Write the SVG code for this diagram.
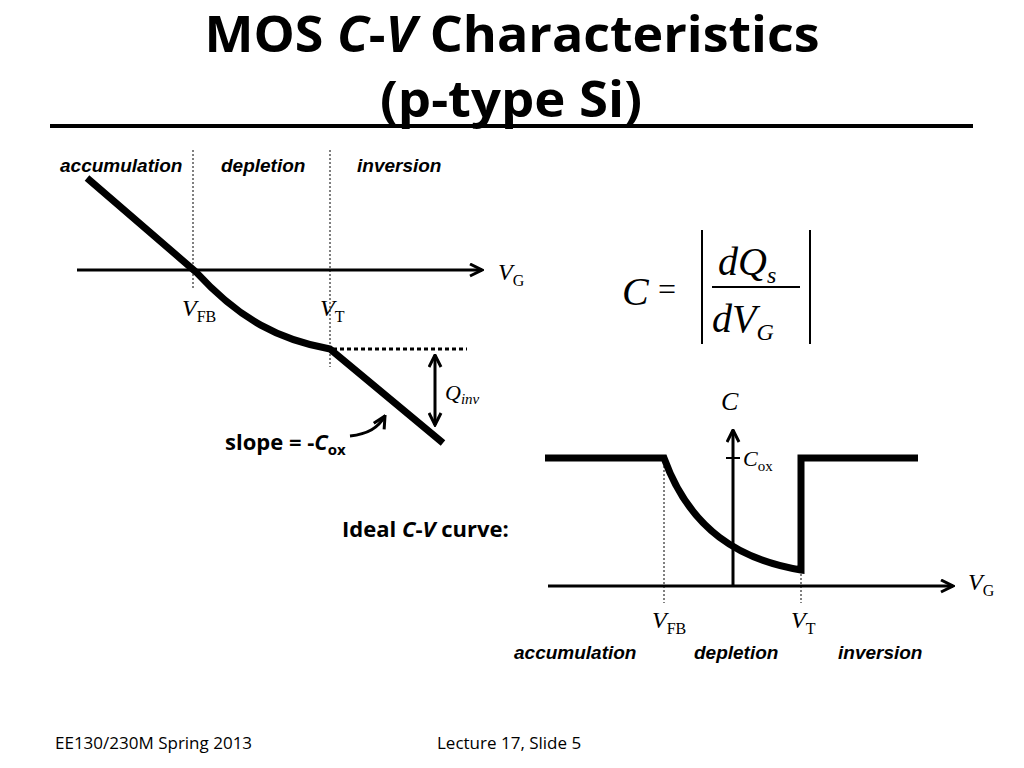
<svg xmlns="http://www.w3.org/2000/svg" width="1024" height="768" viewBox="0 0 1024 768">
<style>
.t{font-family:"Open Sans","Liberation Sans",sans-serif;font-weight:bold}
.r{font-family:"Arial Narrow","Liberation Sans",sans-serif;font-weight:bold;font-style:italic;font-size:19px}
.s{font-family:"Liberation Serif",serif}
.thick{fill:none;stroke:#000;stroke-width:7}
.ax{fill:none;stroke:#000;stroke-width:3}
.dot{fill:none;stroke:#000;stroke-width:1;stroke-dasharray:2,2}
</style>
<defs>
<marker id="a" viewBox="0 0 10 10" refX="9" refY="5" markerWidth="5" markerHeight="5" orient="auto-start-reverse"><path d="M1,1 L9,5 L1,9" fill="none" stroke="#000" stroke-width="2"/></marker>
</defs>
<rect width="1024" height="768" fill="#fff"/>
<text class="t" x="512" y="52" font-size="50" text-anchor="middle" textLength="615" lengthAdjust="spacingAndGlyphs">MOS <tspan font-style="italic">C</tspan>-<tspan font-style="italic">V</tspan> Characteristics</text>
<text class="t" x="511" y="117" font-size="50" text-anchor="middle" textLength="262" lengthAdjust="spacingAndGlyphs">(p-type Si)</text>
<line x1="50" y1="126" x2="973" y2="126" stroke="#000" stroke-width="4"/>
<g id="top">
<text class="r" x="60" y="172">accumulation</text>
<text class="r" x="221" y="172">depletion</text>
<text class="r" x="357" y="172">inversion</text>
<line class="dot" x1="193" y1="150" x2="193" y2="290"/>
<line class="dot" x1="330" y1="150" x2="330" y2="367"/>
<line class="ax" x1="77" y1="270" x2="482" y2="270" marker-end="url(#a)"/>
<path class="thick" d="M87,178 L196,272 C240,320 280,340 330,349 L443,443"/>
<line x1="333" y1="349" x2="467" y2="349" stroke="#000" stroke-width="3" stroke-dasharray="4,3"/>
<line class="ax" x1="435" y1="355" x2="435" y2="425" marker-start="url(#a)" marker-end="url(#a)"/>
<text class="s" x="498" y="280" font-size="24" font-style="italic">V<tspan font-size="16" font-style="normal" dy="6">G</tspan></text>
<text class="s" x="182" y="316" font-size="24" font-style="italic">V<tspan font-size="16" font-style="normal" dy="6">FB</tspan></text>
<text class="s" x="320" y="316" font-size="24" font-style="italic">V<tspan font-size="16" font-style="normal" dy="6">T</tspan></text>
<text class="s" x="445" y="400" font-size="22" font-style="italic">Q<tspan font-size="15" dy="4">inv</tspan></text>
<text class="t" x="225" y="450" font-size="22">slope = -<tspan font-style="italic">C</tspan><tspan font-size="15" dy="5">ox</tspan></text>
<path d="M350,436 C368,434 378,428 385,416" fill="none" stroke="#000" stroke-width="3" marker-end="url(#a)"/>
</g>
<g id="formula" class="s" font-style="italic">
<text x="622" y="305" font-size="40">C</text>
<text x="658" y="300" font-size="32" font-style="normal">=</text>
<line x1="702" y1="230" x2="702" y2="344" stroke="#000" stroke-width="2"/>
<line x1="810" y1="230" x2="810" y2="344" stroke="#000" stroke-width="2"/>
<line x1="712" y1="287" x2="800" y2="287" stroke="#000" stroke-width="2"/>
<text x="718" y="275" font-size="40">dQ<tspan font-size="24" dy="8">s</tspan></text>
<text x="712" y="332" font-size="40">dV<tspan font-size="24" dy="8">G</tspan></text>
</g>
<g id="bottom">
<text class="t" x="342" y="537" font-size="22">Ideal <tspan font-style="italic">C</tspan>-<tspan font-style="italic">V</tspan> curve:</text>
<line class="dot" x1="664" y1="458" x2="664" y2="603"/>
<line class="dot" x1="801" y1="570" x2="801" y2="603"/>
<line class="ax" x1="548" y1="586" x2="953" y2="586" marker-end="url(#a)"/>
<line class="ax" x1="733" y1="586" x2="733" y2="430" marker-end="url(#a)"/>
<line x1="726" y1="458" x2="740" y2="458" stroke="#000" stroke-width="2"/>
<path class="thick" d="M545,458 L664,458 C690,530 740,560 801,570 L801,458 L918,458"/>
<text class="s" x="721" y="410" font-size="26" font-style="italic">C</text>
<text class="s" x="743" y="466" font-size="22" font-style="italic">C<tspan font-size="15" font-style="normal" dy="5">ox</tspan></text>
<text class="s" x="968" y="590" font-size="24" font-style="italic">V<tspan font-size="16" font-style="normal" dy="6">G</tspan></text>
<text class="s" x="652" y="628" font-size="24" font-style="italic">V<tspan font-size="16" font-style="normal" dy="6">FB</tspan></text>
<text class="s" x="791" y="628" font-size="24" font-style="italic">V<tspan font-size="16" font-style="normal" dy="6">T</tspan></text>
<text class="r" x="514" y="659">accumulation</text>
<text class="r" x="694" y="659">depletion</text>
<text class="r" x="838" y="659">inversion</text>
</g>
<text x="55" y="749" font-family="Open Sans,Liberation Sans,sans-serif" font-size="17">EE130/230M Spring 2013</text>
<text x="437" y="749" font-family="Open Sans,Liberation Sans,sans-serif" font-size="17">Lecture 17, Slide 5</text>
</svg>
